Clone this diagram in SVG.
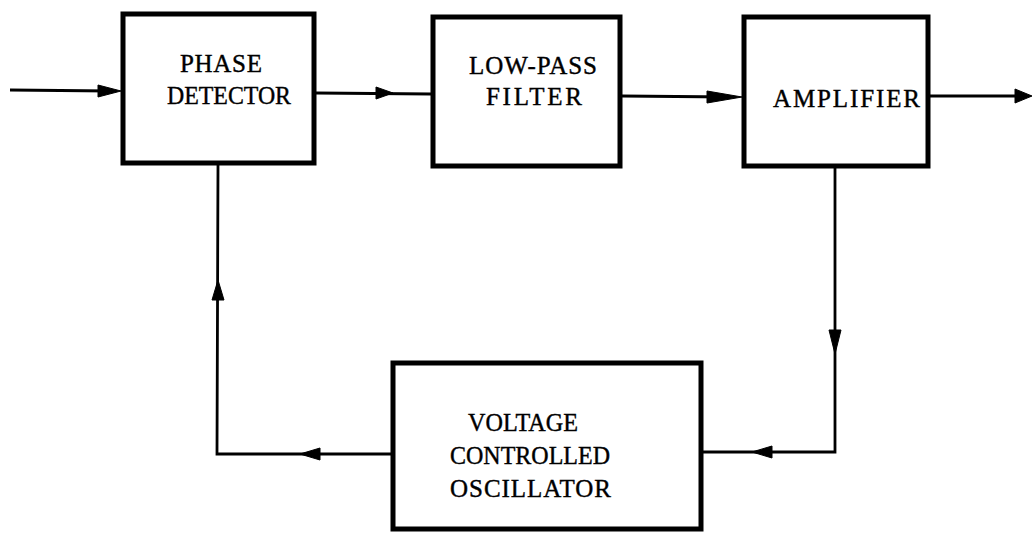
<svg xmlns="http://www.w3.org/2000/svg" width="1032" height="535" viewBox="0 0 1032 535">
<style>
.box{fill:#fff;stroke:#000;stroke-width:5}
.ln{fill:none;stroke:#000;stroke-width:2.8;stroke-linejoin:miter}
.ah{fill:#000;stroke:#000;stroke-width:1}
.t{font-family:"Liberation Serif","Times New Roman",serif;font-size:25px;fill:#000;stroke:#000;stroke-width:0.4}
</style>
<rect width="1032" height="535" fill="#fff"/>
<g id="connectors">
<line class="ln" x1="10" y1="90" x2="110" y2="91"/>
<polygon class="ah" points="121,91 98,85 98,97"/>
<line class="ln" x1="316" y1="93" x2="431" y2="94"/>
<polygon class="ah" points="393,93 376,87 376,99"/>
<line class="ln" x1="622" y1="96" x2="730" y2="97"/>
<polygon class="ah" points="742,97 707,91 707,103"/>
<line class="ln" x1="930" y1="96" x2="1020" y2="96"/>
<polygon class="ah" points="1032,96 1015,89 1015,103"/>
<polyline class="ln" points="835,168 835,452 703,452"/>
<polygon class="ah" points="835,354 829,330 841,330"/>
<polygon class="ah" points="752,452 772,446 772,458"/>
<polyline class="ln" points="391,454 217,454 218,165"/>
<polygon class="ah" points="300,454 320,448 320,460"/>
<polygon class="ah" points="218,280 212,300 224,300"/>
</g>
<g id="phase-detector">
<rect class="box" x="123" y="14" width="191" height="149"/>
<text class="t" x="180" y="72" textLength="82" lengthAdjust="spacing">PHASE</text>
<text class="t" x="167" y="104" textLength="124" lengthAdjust="spacingAndGlyphs">DETECTOR</text>
</g>
<g id="low-pass-filter">
<rect class="box" x="433" y="17" width="187" height="149" stroke-width="4"/>
<text class="t" x="469" y="74" textLength="128" lengthAdjust="spacing">LOW-PASS</text>
<text class="t" x="486" y="105" textLength="96" lengthAdjust="spacing">FILTER</text>
</g>
<g id="amplifier">
<rect class="box" x="744" y="17" width="184" height="149"/>
<text class="t" x="773" y="107" textLength="147" lengthAdjust="spacing">AMPLIFIER</text>
</g>
<g id="vco">
<rect class="box" x="393" y="363" width="308" height="166" stroke-width="4"/>
<text class="t" x="468" y="431" textLength="110" lengthAdjust="spacingAndGlyphs">VOLTAGE</text>
<text class="t" x="450" y="464" textLength="160" lengthAdjust="spacingAndGlyphs">CONTROLLED</text>
<text class="t" x="450" y="497" textLength="161" lengthAdjust="spacing">OSCILLATOR</text>
</g>
</svg>
